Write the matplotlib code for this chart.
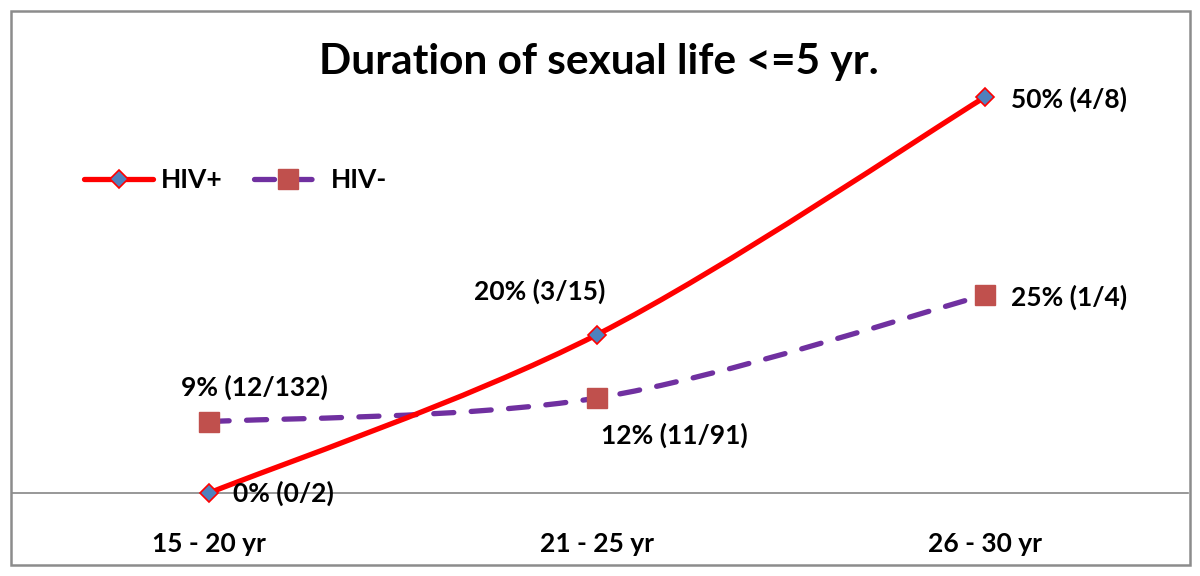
import matplotlib.pyplot as plt
from matplotlib.path import Path
from matplotlib.patches import PathPatch, Rectangle

plt.rcParams['font.family'] = ['Lato', 'DejaVu Sans']

categories = ['15 - 20 yr', '21 - 25 yr', '26 - 30 yr']
hiv_pos = [0.0, 0.20, 0.50]
hiv_neg = [0.09, 0.12, 0.25]
pos_labels = ['0% (0/2)', '20% (3/15)', '50% (4/8)']
neg_labels = ['9% (12/132)', '12% (11/91)', '25% (1/4)']


def smooth_path(xs, ys):
    # Excel-like smoothed line: cubic bezier through the points
    pts = list(zip(xs, ys))
    n = len(pts)
    verts = [pts[0]]
    codes = [Path.MOVETO]
    for i in range(n - 1):
        p0 = pts[max(i - 1, 0)]
        p1 = pts[i]
        p2 = pts[i + 1]
        p3 = pts[min(i + 2, n - 1)]
        c1 = (p1[0] + (p2[0] - p0[0]) / 6, p1[1] + (p2[1] - p0[1]) / 6)
        c2 = (p2[0] - (p3[0] - p1[0]) / 6, p2[1] - (p3[1] - p1[1]) / 6)
        verts += [c1, c2, p2]
        codes += [Path.CURVE4] * 3
    return Path(verts, codes)


W, H = 1200, 576
fig = plt.figure(figsize=(12, 5.76), dpi=100)
ax = fig.add_axes([12 / W, (H - 493) / H, (1188 - 12) / W, (493 - 40) / H])
x = list(range(len(categories)))
ax.set_xlim(-0.508, 2.523)
ax.set_ylim(0, 0.572)

neg_dash = (0, (3.8, 3.3))
pos_patch = PathPatch(smooth_path(x, hiv_pos), facecolor='none', edgecolor='#FF0000',
                      lw=3.8, capstyle='round', zorder=3)
neg_patch = PathPatch(smooth_path(x, hiv_neg), facecolor='none', edgecolor='#7030A0',
                      lw=3.8, linestyle=neg_dash, capstyle='round', zorder=2)
ax.add_patch(pos_patch)
ax.add_patch(neg_patch)

ax.plot(x, hiv_pos, linestyle='none', marker='D', ms=9.5, mfc='#4F81BD', mec='#FF0000',
        mew=1.2, clip_on=False, zorder=5)
ax.plot(x, hiv_neg, linestyle='none', marker='s', ms=14, mfc='#C0504D', mec='#C0504D',
        clip_on=False, zorder=4)

# legend proxies
ax.plot([], [], color='#FF0000', lw=3.8, marker='D', ms=9.5, mfc='#4F81BD', mec='#FF0000',
        mew=1.2, label='HIV+', solid_capstyle='round')
ax.plot([], [], color='#7030A0', lw=3.8, ls=neg_dash, marker='s', ms=14, mfc='#C0504D',
        mec='#C0504D', label='HIV-', dash_capstyle='round')
leg = fig.legend(loc='center left', bbox_to_anchor=(71 / W, 1 - 180 / H), ncol=2,
                 frameon=False, borderpad=0, handlelength=2.6, handletextpad=0.3,
                 columnspacing=1.2, prop={'weight': 'bold', 'size': 19})

lab_font = dict(fontsize=19, fontweight='bold', color='black')
pos_offsets = [(17, 0, 'left'), (-41, 31, 'center'), (19, -1.5, 'left')]
neg_offsets = [(33, 25, 'center'), (56, -27, 'center'), (19, -2, 'left')]
for i in x:
    dx, dy, ha = pos_offsets[i]
    ax.annotate(pos_labels[i], (i, hiv_pos[i]), xytext=(dx, dy), textcoords='offset points',
                ha=ha, va='center', annotation_clip=False, **lab_font)
    dx, dy, ha = neg_offsets[i]
    ax.annotate(neg_labels[i], (i, hiv_neg[i]), xytext=(dx, dy), textcoords='offset points',
                ha=ha, va='center', annotation_clip=False, **lab_font)

ax.set_xticks(x)
ax.set_xticklabels(categories, fontsize=19, fontweight='bold')
ax.tick_params(axis='x', length=0, pad=28)
ax.set_yticks([])
for s in ['top', 'right', 'left']:
    ax.spines[s].set_visible(False)
ax.spines['bottom'].set_color('#868686')
ax.spines['bottom'].set_linewidth(1.2)

fig.text(599 / W, 1 - 62 / H, 'Duration of sexual life <=5 yr.', ha='center', va='center',
         fontsize=30.5, fontweight='bold')

fig.patches.append(Rectangle((11 / W, 11 / H), (1190 - 11) / W, (565 - 11) / H,
                             transform=fig.transFigure, fill=False, edgecolor='#8C8C8C',
                             lw=1.8))

fig.savefig('out.png', dpi=100)
